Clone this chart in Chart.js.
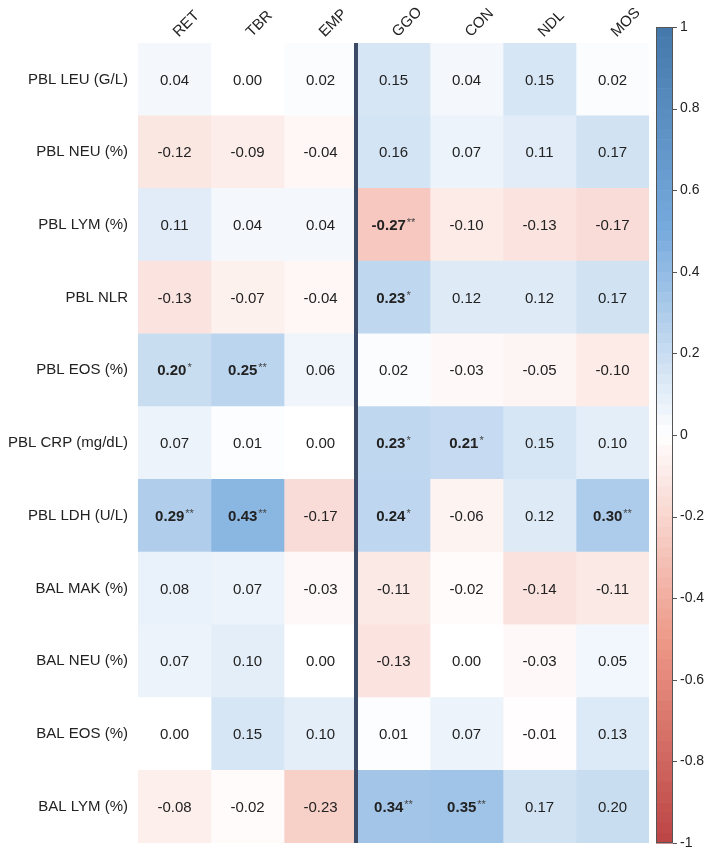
<!DOCTYPE html>
<html lang="en">
<head>
    <meta charset="UTF-8">
    <title>Correlation heatmap</title>
    <script src="https://cdn.jsdelivr.net/npm/chart.js@4.4.0/dist/chart.umd.min.js"></script>
    <style>
        body { margin: 0; background: #ffffff; }
        .chart-container { position: relative; width: 712px; height: 857px; }
    </style>
</head>
<body>
    <div class="chart-container">
        <canvas id="corrChart"></canvas>
    </div>
    <script>
        // column (imaging) and row (lab) labels
        const cols = ['RET', 'TBR', 'EMP', 'GGO', 'CON', 'NDL', 'MOS'];
        const rows = ['PBL LEU (G/L)', 'PBL NEU (%)', 'PBL LYM (%)', 'PBL NLR', 'PBL EOS (%)',
                      'PBL CRP (mg/dL)', 'PBL LDH (U/L)', 'BAL MAK (%)', 'BAL NEU (%)',
                      'BAL EOS (%)', 'BAL LYM (%)'];

        // correlation coefficients, one array per row
        const leu = [0.04, 0.00, 0.02, 0.15, 0.04, 0.15, 0.02];
        const neu = [-0.12, -0.09, -0.04, 0.16, 0.07, 0.11, 0.17];
        const lym = [0.11, 0.04, 0.04, -0.27, -0.10, -0.13, -0.17];
        const nlr = [-0.13, -0.07, -0.04, 0.23, 0.12, 0.12, 0.17];
        const eos = [0.20, 0.25, 0.06, 0.02, -0.03, -0.05, -0.10];
        const crp = [0.07, 0.01, 0.00, 0.23, 0.21, 0.15, 0.10];
        const ldh = [0.29, 0.43, -0.17, 0.24, -0.06, 0.12, 0.30];
        const balMak = [0.08, 0.07, -0.03, -0.11, -0.02, -0.14, -0.11];
        const balNeu = [0.07, 0.10, 0.00, -0.13, 0.00, -0.03, 0.05];
        const balEos = [0.00, 0.15, 0.10, 0.01, 0.07, -0.01, 0.13];
        const balLym = [-0.08, -0.02, -0.23, 0.34, 0.35, 0.17, 0.20];
        const values = [leu, neu, lym, nlr, eos, crp, ldh, balMak, balNeu, balEos, balLym];

        // significance marks (* p<0.05, ** p<0.01)
        const stars = [
            ['', '', '', '', '', '', ''],
            ['', '', '', '', '', '', ''],
            ['', '', '', '**', '', '', ''],
            ['', '', '', '*', '', '', ''],
            ['*', '**', '', '', '', '', ''],
            ['', '', '', '*', '*', '', ''],
            ['**', '**', '', '*', '', '', '**'],
            ['', '', '', '', '', '', ''],
            ['', '', '', '', '', '', ''],
            ['', '', '', '', '', '', ''],
            ['', '', '', '**', '**', '', '']
        ];

        const barTicks = [1, 0.8, 0.6, 0.4, 0.2, 0, -0.2, -0.4, -0.6, -0.8, -1];

        const stops = [[-1, [187, 68, 68]], [-0.5, [238, 153, 136]], [0, [255, 255, 255]],
                       [0.5, [119, 170, 221]], [1, [68, 119, 170]]];
        function colorFor(v) {
            v = Math.max(-1, Math.min(1, v));
            for (let i = 0; i < stops.length - 1; i++) {
                const [a, ca] = stops[i];
                const [b, cb] = stops[i + 1];
                if (v >= a && v <= b) {
                    const t = (v - a) / (b - a);
                    const c = ca.map((x, k) => Math.round(x + (cb[k] - x) * t));
                    return `rgb(${c[0]}, ${c[1]}, ${c[2]})`;
                }
            }
            return '#ffffff';
        }

        const FONT = "'Liberation Sans', Arial, sans-serif";

        // one floating-bar dataset per column
        const datasets = cols.map((c, j) => ({
            label: c,
            data: rows.map(() => [j, j + 1]),
            backgroundColor: rows.map((r, i) => colorFor(values[i][j])),
            borderWidth: 0,
            grouped: false,
            barPercentage: 1,
            categoryPercentage: 1
        }));

        const cellText = {
            id: 'cellText',
            afterDatasetsDraw(chart) {
                const { ctx, scales: { x, y } } = chart;
                ctx.save();
                ctx.textBaseline = 'middle';
                ctx.textAlign = 'left';
                values.forEach((row, i) => {
                    row.forEach((v, j) => {
                        const cx = x.getPixelForValue(j + 0.5);
                        const cy = y.getPixelForValue(i);
                        const txt = v.toFixed(2);
                        const st = stars[i][j];
                        ctx.font = '11px ' + FONT;
                        const w2 = st ? ctx.measureText(st).width + 1 : 0;
                        ctx.font = (st ? 'bold ' : '') + '15px ' + FONT;
                        const w1 = ctx.measureText(txt).width;
                        const left = cx - (w1 + w2) / 2;
                        ctx.fillStyle = '#222222';
                        ctx.fillText(txt, left, cy + 1);
                        if (st) {
                            ctx.font = '11px ' + FONT;
                            ctx.fillStyle = '#444444';
                            ctx.fillText(st, left + w1 + 1, cy - 2);
                        }
                    });
                });
                // divider between EMP and GGO
                const lx = x.getPixelForValue(3);
                ctx.fillStyle = '#3b4a66';
                ctx.fillRect(lx - 3, chart.chartArea.top, 4, chart.chartArea.bottom - chart.chartArea.top);
                ctx.restore();
            }
        };

        const colorBar = {
            id: 'colorBar',
            afterDraw(chart) {
                const { ctx, chartArea } = chart;
                const left = chartArea.right + 7;
                const w = 17;
                const top = chartArea.top - 16;
                const bottom = chartArea.bottom;
                const h = bottom - top;
                const steps = 80;
                ctx.save();
                for (let k = 0; k < steps; k++) {
                    const v = 1 - (k + 0.5) * 2 / steps;
                    ctx.fillStyle = colorFor(v);
                    ctx.fillRect(left, top + k * h / steps, w, h / steps + 0.6);
                }
                ctx.strokeStyle = '#555555';
                ctx.lineWidth = 1;
                ctx.strokeRect(left + 0.5, top + 0.5, w - 1, h - 1);
                ctx.fillStyle = '#222222';
                ctx.font = '14px ' + FONT;
                ctx.textAlign = 'left';
                ctx.textBaseline = 'middle';
                barTicks.forEach(t => {
                    const ty = top + (1 - t) / 2 * h;
                    ctx.beginPath();
                    ctx.moveTo(left + w, Math.round(ty) + 0.5);
                    ctx.lineTo(left + w + 4, Math.round(ty) + 0.5);
                    ctx.stroke();
                    ctx.fillText(String(t), left + w + 7, ty);
                });
                ctx.restore();
            }
        };

        new Chart(document.getElementById('corrChart'), {
            type: 'bar',
            data: { labels: rows, datasets: datasets },
            options: {
                indexAxis: 'y',
                responsive: true,
                maintainAspectRatio: false,
                animation: false,
                layout: { padding: { left: 0, right: 63, top: 0, bottom: 14 } },
                plugins: {
                    legend: { display: false },
                    tooltip: { enabled: false }
                },
                scales: {
                    x: { type: 'linear', min: 0, max: 7, display: false },
                    x2: {
                        type: 'category',
                        labels: cols,
                        position: 'top',
                        offset: true,
                        grid: { display: false, drawTicks: false },
                        border: { display: false },
                        afterFit: s => { s.height = 43; },
                        ticks: {
                            minRotation: 45,
                            maxRotation: 45,
                            padding: 2,
                            labelOffset: 14,
                            color: '#222222',
                            font: { family: FONT, size: 15 }
                        }
                    },
                    y: {
                        type: 'category',
                        offset: true,
                        grid: { display: false, drawTicks: false },
                        border: { display: false },
                        afterFit: s => {
                            s.width = 138;
                            s.paddingTop = 0;
                            s.paddingBottom = 0;
                        },
                        ticks: {
                            padding: 10,
                            color: '#222222',
                            font: { family: FONT, size: 15 }
                        }
                    }
                }
            },
            plugins: [cellText, colorBar]
        });
    </script>
</body>
</html>
